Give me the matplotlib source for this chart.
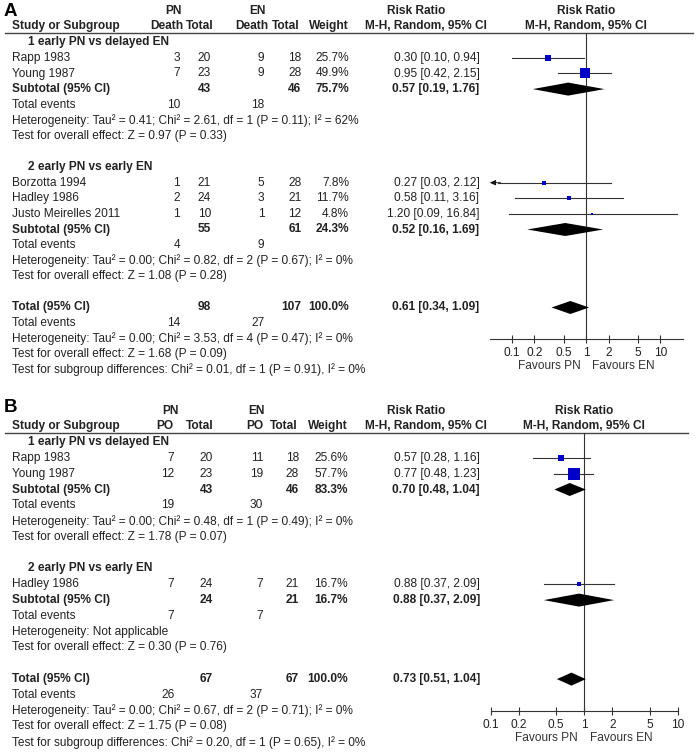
import matplotlib
matplotlib.use("Agg")
import matplotlib.pyplot as plt
from matplotlib.ticker import NullLocator

plt.rcParams["font.family"] = ["Liberation Sans", "DejaVu Sans"]

W, H = 697, 754
FS = 8.55
INK = "#222222"
BLUE = "#0000c8"
TICKS = [0.1, 0.2, 0.5, 1, 2, 5, 10]
TICK_LABELS = ["0.1", "0.2", "0.5", "1", "2", "5", "10"]

# ---------------- A: death ----------------
a_study = ["Rapp 1983", "Young 1987", "Borzotta 1994", "Hadley 1986", "Justo Meirelles 2011"]
a_group = [0, 0, 1, 1, 1]
a_pn_ev = [3, 7, 1, 2, 1]
a_pn_n = [20, 23, 21, 24, 10]
a_en_ev = [9, 9, 5, 3, 1]
a_en_n = [18, 28, 28, 21, 12]
a_weight = [25.7, 49.9, 7.8, 11.7, 4.8]
a_rr = [0.30, 0.95, 0.27, 0.58, 1.20]
a_lo = [0.10, 0.42, 0.03, 0.11, 0.09]
a_hi = [0.94, 2.15, 2.12, 3.16, 16.84]

a_sub_label = ["1 early PN vs delayed EN", "2 early PN vs early EN"]
a_sub_pn_n = [43, 55]
a_sub_en_n = [46, 61]
a_sub_weight = [75.7, 24.3]
a_sub_pn_ev = [10, 4]
a_sub_en_ev = [18, 9]
a_sub_rr = [0.57, 0.52]
a_sub_lo = [0.19, 0.16]
a_sub_hi = [1.76, 1.69]
a_sub_het = ["Heterogeneity: Tau² = 0.41; Chi² = 2.61, df = 1 (P = 0.11); I² = 62%",
             "Heterogeneity: Tau² = 0.00; Chi² = 0.82, df = 2 (P = 0.67); I² = 0%"]
a_sub_z = ["Test for overall effect: Z = 0.97 (P = 0.33)",
           "Test for overall effect: Z = 1.08 (P = 0.28)"]

a_tot_n = [98, 107]
a_tot_ev = [14, 27]
a_tot_ci = [0.61, 0.34, 1.09]
a_tot_het = "Heterogeneity: Tau² = 0.00; Chi² = 3.53, df = 4 (P = 0.47); I² = 0%"
a_tot_z = "Test for overall effect: Z = 1.68 (P = 0.09)"
a_subgroup = "Test for subgroup differences: Chi² = 0.01, df = 1 (P = 0.91), I² = 0%"

# ---------------- B: PO ----------------
b_study = ["Rapp 1983", "Young 1987", "Hadley 1986"]
b_group = [0, 0, 1]
b_pn_ev = [7, 12, 7]
b_pn_n = [20, 23, 24]
b_en_ev = [11, 19, 7]
b_en_n = [18, 28, 21]
b_weight = [25.6, 57.7, 16.7]
b_rr = [0.57, 0.77, 0.88]
b_lo = [0.28, 0.48, 0.37]
b_hi = [1.16, 1.23, 2.09]

b_sub_label = ["1 early PN vs delayed EN", "2 early PN vs early EN"]
b_sub_pn_n = [43, 24]
b_sub_en_n = [46, 21]
b_sub_weight = [83.3, 16.7]
b_sub_pn_ev = [19, 7]
b_sub_en_ev = [30, 7]
b_sub_rr = [0.70, 0.88]
b_sub_lo = [0.48, 0.37]
b_sub_hi = [1.04, 2.09]
b_sub_het = ["Heterogeneity: Tau² = 0.00; Chi² = 0.48, df = 1 (P = 0.49); I² = 0%",
             "Heterogeneity: Not applicable"]
b_sub_z = ["Test for overall effect: Z = 1.78 (P = 0.07)",
           "Test for overall effect: Z = 0.30 (P = 0.76)"]

b_tot_n = [67, 67]
b_tot_ev = [26, 37]
b_tot_ci = [0.73, 0.51, 1.04]
b_tot_het = "Heterogeneity: Tau² = 0.00; Chi² = 0.67, df = 2 (P = 0.71); I² = 0%"
b_tot_z = "Test for overall effect: Z = 1.75 (P = 0.08)"
b_subgroup = "Test for subgroup differences: Chi² = 0.20, df = 1 (P = 0.65), I² = 0%"


def ci_text(r, lo, hi):
    return f"{r:.2f} [{lo:.2f}, {hi:.2f}]"


def panel(fig, ax, letter, letter_y, ev_name, d, col, line_y, step, fx, lim):
    txt = dict(fontsize=FS, color=INK, va="center")
    bold = dict(txt, fontweight="bold")

    # header block
    ax.text(4, letter_y, letter, fontsize=13.5, fontweight="bold", color="black", va="center")
    y1, y2 = line_y - 22, line_y - 6.5
    ax.text(col["pn_c"], y1, "PN", ha="center", **bold)
    ax.text(col["en_c"], y1, "EN", ha="center", **bold)
    ax.text(416, y1, "Risk Ratio", ha="center", **bold)
    ax.text(12, y2, "Study or Subgroup", ha="left", **bold)
    ax.text(col["h_pn_ev"], y2, ev_name, ha="right", **bold)
    ax.text(col["h_pn_n"], y2, "Total", ha="right", **bold)
    ax.text(col["h_en_ev"], y2, ev_name, ha="right", **bold)
    ax.text(col["h_en_n"], y2, "Total", ha="right", **bold)
    ax.text(col["w"], y2, "Weight", ha="right", **bold)
    ax.text(426, y2, "M-H, Random, 95% CI", ha="center", **bold)
    ax.plot([5, col["line_end"]], [line_y, line_y], color="#444444", lw=1.0)

    rows_study, rows_sub = [], []
    y = line_y + 9.6
    for g, lab in enumerate(d["sub_label"]):
        ax.text(28, y, lab, ha="left", **bold)
        y += step
        for i, name in enumerate(d["study"]):
            if d["group"][i] != g:
                continue
            ax.text(12, y, name, ha="left", **txt)
            ax.text(col["pn_ev"], y, str(d["pn_ev"][i]), ha="right", **txt)
            ax.text(col["pn_n"], y, str(d["pn_n"][i]), ha="right", **txt)
            ax.text(col["en_ev"], y, str(d["en_ev"][i]), ha="right", **txt)
            ax.text(col["en_n"], y, str(d["en_n"][i]), ha="right", **txt)
            ax.text(col["w"], y, f"{d['weight'][i]:.1f}%", ha="right", **txt)
            ax.text(col["rr"], y, ci_text(d["rr"][i], d["lo"][i], d["hi"][i]), ha="right", **txt)
            rows_study.append(y)
            y += step
        ax.text(12, y, "Subtotal (95% CI)", ha="left", **bold)
        ax.text(col["pn_n"], y, str(d["sub_pn_n"][g]), ha="right", **bold)
        ax.text(col["en_n"], y, str(d["sub_en_n"][g]), ha="right", **bold)
        ax.text(col["w"], y, f"{d['sub_weight'][g]:.1f}%", ha="right", **bold)
        ax.text(col["rr"], y, ci_text(d["sub_rr"][g], d["sub_lo"][g], d["sub_hi"][g]), ha="right", **bold)
        rows_sub.append(y)
        y += step
        ax.text(12, y, "Total events", ha="left", **txt)
        ax.text(col["pn_ev"], y, str(d["sub_pn_ev"][g]), ha="right", **txt)
        ax.text(col["en_ev"], y, str(d["sub_en_ev"][g]), ha="right", **txt)
        y += step
        ax.text(12, y, d["sub_het"][g], ha="left", **txt)
        y += step
        ax.text(12, y, d["sub_z"][g], ha="left", **txt)
        y += 2 * step

    y_tot = y
    ax.text(12, y, "Total (95% CI)", ha="left", **bold)
    ax.text(col["pn_n"], y, str(d["tot_n"][0]), ha="right", **bold)
    ax.text(col["en_n"], y, str(d["tot_n"][1]), ha="right", **bold)
    ax.text(col["w"], y, "100.0%", ha="right", **bold)
    ax.text(col["rr"], y, ci_text(*d["tot_ci"]), ha="right", **bold)
    y += step
    ax.text(12, y, "Total events", ha="left", **txt)
    ax.text(col["pn_ev"], y, str(d["tot_ev"][0]), ha="right", **txt)
    ax.text(col["en_ev"], y, str(d["tot_ev"][1]), ha="right", **txt)
    y += step
    y_axis = y
    ax.text(12, y, d["tot_het"], ha="left", **txt)
    y += step
    ax.text(12, y, d["tot_z"], ha="left", **txt)
    y += step
    ax.text(12, y, d["subgroup"], ha="left", **txt)

    # forest plot on a log axis; its y data units are figure pixels
    x0, x1 = fx
    fa = fig.add_axes([x0 / W, 1 - y_axis / H, (x1 - x0) / W, (y_axis - line_y) / H])
    fa.patch.set_visible(False)
    fa.set_xscale("log")
    fa.set_xlim(lim)
    fa.set_ylim(y_axis, line_y)
    for s in ["left", "right", "top"]:
        fa.spines[s].set_visible(False)
    fa.spines["bottom"].set_color("#333333")
    fa.spines["bottom"].set_linewidth(0.8)
    fa.set_yticks([])
    fa.set_xticks(TICKS)
    fa.set_xticklabels(TICK_LABELS)
    fa.xaxis.set_minor_locator(NullLocator())
    fa.tick_params(axis="x", direction="inout", length=5.5, width=0.8, color="#333333",
                   labelsize=FS, labelcolor=INK, pad=3.2)
    fa.axvline(1, color="#333333", lw=0.8, zorder=1)

    fa.text(1, y1, "Risk Ratio", ha="center", **bold)
    fa.text(1, y2, "M-H, Random, 95% CI", ha="center", **bold)
    fa.annotate("Favours PN", xy=(1, y_axis), xytext=(-6, -27), textcoords="offset pixels",
                ha="right", va="center", fontsize=FS, color="#333333")
    fa.annotate("Favours EN", xy=(1, y_axis), xytext=(6, -27), textcoords="offset pixels",
                ha="left", va="center", fontsize=FS, color="#333333")

    for i, yy in enumerate(rows_study):
        lo, hi = d["lo"][i], d["hi"][i]
        if lo < lim[0]:
            fa.plot([lim[0] * 1.3, hi], [yy, yy], color="#333333", lw=0.8, zorder=2)
            fa.annotate("", xy=(lim[0], yy), xytext=(lim[0] * 1.4, yy),
                        arrowprops=dict(arrowstyle="-|>,head_length=0.35,head_width=0.16",
                                        color="#111111", lw=0.6, shrinkA=0, shrinkB=0))
        else:
            fa.plot([lo, min(hi, lim[1])], [yy, yy], color="#333333", lw=0.8, zorder=2)
        side = 1.8 + 0.16 * d["weight"][i]
        fa.plot([d["rr"][i]], [yy], marker="s", ms=side * 0.72, color=BLUE, mec=BLUE, mew=0, zorder=3)

    half = 6.5
    for g, yy in enumerate(rows_sub + [y_tot]):
        if g < len(rows_sub):
            r, lo, hi = d["sub_rr"][g], d["sub_lo"][g], d["sub_hi"][g]
        else:
            r, lo, hi = d["tot_ci"]
        fa.fill([lo, r, hi, r], [yy, yy - half, yy, yy + half], color="black", lw=0, zorder=3)


fig = plt.figure(figsize=(W / 100, H / 100), dpi=100)
ax = fig.add_axes([0, 0, 1, 1])
ax.set_xlim(0, W)
ax.set_ylim(H, 0)
ax.axis("off")

data_a = dict(study=a_study, group=a_group, pn_ev=a_pn_ev, pn_n=a_pn_n, en_ev=a_en_ev, en_n=a_en_n,
              weight=a_weight, rr=a_rr, lo=a_lo, hi=a_hi, sub_label=a_sub_label,
              sub_pn_n=a_sub_pn_n, sub_en_n=a_sub_en_n, sub_weight=a_sub_weight,
              sub_pn_ev=a_sub_pn_ev, sub_en_ev=a_sub_en_ev, sub_rr=a_sub_rr, sub_lo=a_sub_lo,
              sub_hi=a_sub_hi, sub_het=a_sub_het, sub_z=a_sub_z, tot_n=a_tot_n, tot_ev=a_tot_ev,
              tot_ci=a_tot_ci, tot_het=a_tot_het, tot_z=a_tot_z, subgroup=a_subgroup)
data_b = dict(study=b_study, group=b_group, pn_ev=b_pn_ev, pn_n=b_pn_n, en_ev=b_en_ev, en_n=b_en_n,
              weight=b_weight, rr=b_rr, lo=b_lo, hi=b_hi, sub_label=b_sub_label,
              sub_pn_n=b_sub_pn_n, sub_en_n=b_sub_en_n, sub_weight=b_sub_weight,
              sub_pn_ev=b_sub_pn_ev, sub_en_ev=b_sub_en_ev, sub_rr=b_sub_rr, sub_lo=b_sub_lo,
              sub_hi=b_sub_hi, sub_het=b_sub_het, sub_z=b_sub_z, tot_n=b_tot_n, tot_ev=b_tot_ev,
              tot_ci=b_tot_ci, tot_het=b_tot_het, tot_z=b_tot_z, subgroup=b_subgroup)

cols_a = dict(pn_c=173, en_c=257.5, h_pn_ev=183, h_pn_n=214, h_en_ev=268, h_en_n=299,
              pn_ev=180, pn_n=211, en_ev=264.5, en_n=301.5, w=349, rr=479.5, line_end=693)
cols_b = dict(pn_c=170, en_c=256, h_pn_ev=173.5, h_pn_n=213, h_en_ev=263, h_en_n=298,
              pn_ev=174.5, pn_n=212.5, en_ev=263, en_n=299, w=348, rr=480, line_end=688)

panel(fig, ax, "A", 11.5, "Death", data_a, cols_a, 32.7, 15.6, (489.8, 682.8), (0.05, 20))
panel(fig, ax, "B", 407, "PO", data_b, cols_b, 432.5, 15.8, (490.7, 677.7), (0.1, 10))

fig.savefig("out.png", dpi=100)
